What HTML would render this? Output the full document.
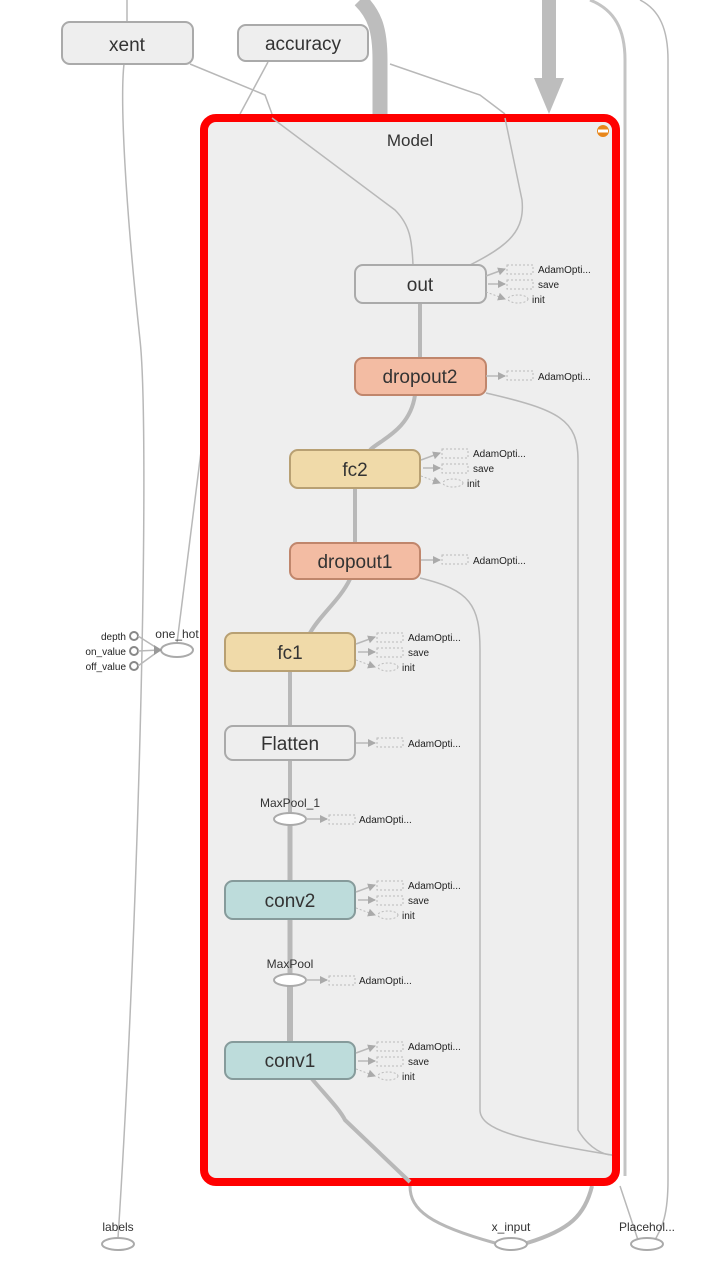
<!DOCTYPE html>
<html><head><meta charset="utf-8"><style>
html,body{margin:0;padding:0;background:#fff;width:720px;height:1276px;overflow:hidden}
svg{display:block}
text{font-family:"Liberation Sans",sans-serif;fill:#333}
.n{font-size:19px;text-anchor:middle}
.s{font-size:10px;fill:#222}
.e{fill:none;stroke:#b8b8b8;stroke-width:1.5}
.t{fill:none;stroke:#b8b8b8;stroke-width:4}
.d{fill:none;stroke:#bbb;stroke-width:1;stroke-dasharray:2,2}
</style></head><body>
<svg width="720" height="1276" viewBox="0 0 720 1276">
<defs>
<marker id="a" markerWidth="8" markerHeight="8" refX="7" refY="4" orient="auto" markerUnits="userSpaceOnUse"><path d="M0,0L8,4L0,8z" fill="#aaa"/></marker>
</defs>
<path d="M127,0 L127,22" class="e"/>
<path d="M124,64 C120,100 125,200 140,340 C150,430 140,900 118,1238" class="e"/>
<path d="M177,643 L210,380" class="e"/>
<path d="M268,62 L240,114" class="e"/>
<path d="M190,64 L265,95 L272,114" class="e"/>
<path d="M390,64 L480,95 L505,114" class="e"/>
<path d="M360,0 C375,15 380,30 380,60 L380,114" fill="none" stroke="#bdbdbd" stroke-width="15"/>
<path d="M549,0 L549,80" fill="none" stroke="#bdbdbd" stroke-width="14"/>
<path d="M534,78 L564,78 L549,114 z" fill="#bdbdbd"/>
<path d="M590,0 C615,10 625,30 625,60 L625,1176" fill="none" stroke="#c4c4c4" stroke-width="3"/>
<path d="M640,0 C660,10 668,30 668,60 L668,1180 C668,1220 660,1230 655,1240" class="e"/>
<path d="M620,1186 L638,1240" class="e"/>
<path d="M410,1186 C410,1210 430,1225 495,1243" class="t" style="stroke-width:3"/>
<path d="M527,1243 C570,1230 585,1215 592,1186" class="t"/>
<rect x="204" y="118" width="412" height="1064" rx="12" fill="#eee" stroke="#f00" stroke-width="8"/>
<text x="410" y="146" class="n" style="font-size:17px">Model</text>
<circle cx="603" cy="131" r="6" fill="#e8861a"/><rect x="598" y="129.5" width="10" height="3" fill="#fff"/>
<path d="M272,118 L395,210 C410,225 412,240 413,265" class="e"/>
<path d="M505,118 L522,200 C525,230 510,245 470,265" class="e"/>
<path d="M486,393 C560,410 578,420 578,460 L578,1130 C590,1150 605,1155 612,1155" class="e"/>
<path d="M420,578 C470,590 480,605 480,650 L480,1110 C480,1130 520,1140 612,1155" class="e"/>
<path d="M420,303 L420,358" class="t"/>
<path d="M415,395 C410,430 380,440 370,450" class="t"/>
<path d="M355,488 L355,543" class="t"/>
<path d="M350,579 C340,600 320,615 310,633" class="t"/>
<path d="M290,671 L290,726" class="t"/>
<path d="M290,760 L290,813" class="t"/>
<path d="M290,825 L290,881" class="t" style="stroke-width:5"/>
<path d="M290,919 L290,974" class="t" style="stroke-width:5"/>
<path d="M290,986 L290,1042" class="t" style="stroke-width:6"/>
<path d="M312,1079 C330,1100 340,1110 345,1120 L410,1182" class="t"/>
<g stroke-width="2">
<rect x="62" y="22" width="131" height="42" rx="8" fill="#eee" stroke="#aaa"/>
<rect x="238" y="25" width="130" height="36" rx="8" fill="#eee" stroke="#aaa"/>
<rect x="355" y="265" width="131" height="38" rx="8" fill="#eee" stroke="#aaa"/>
<rect x="355" y="358" width="131" height="37" rx="8" fill="#f3bca3" stroke="#c0866c"/>
<rect x="290" y="450" width="130" height="38" rx="8" fill="#f0daa9" stroke="#b8a073"/>
<rect x="290" y="543" width="130" height="36" rx="8" fill="#f3bca3" stroke="#c0866c"/>
<rect x="225" y="633" width="130" height="38" rx="8" fill="#f0daa9" stroke="#b8a073"/>
<rect x="225" y="726" width="130" height="34" rx="8" fill="#eee" stroke="#aaa"/>
<rect x="225" y="881" width="130" height="38" rx="8" fill="#bddcdb" stroke="#869b9b"/>
<rect x="225" y="1042" width="130" height="37" rx="8" fill="#bddcdb" stroke="#869b9b"/>
<ellipse cx="290" cy="819" rx="16" ry="6" fill="#fff" stroke="#aaa"/>
<ellipse cx="290" cy="980" rx="16" ry="6" fill="#fff" stroke="#aaa"/>
<ellipse cx="118" cy="1244" rx="16" ry="6" fill="#fff" stroke="#aaa"/>
<ellipse cx="511" cy="1244" rx="16" ry="6" fill="#fff" stroke="#aaa"/>
<ellipse cx="647" cy="1244" rx="16" ry="6" fill="#fff" stroke="#aaa"/>
<ellipse cx="177" cy="650" rx="16" ry="7" fill="#fff" stroke="#aaa"/>
<circle cx="134" cy="636" r="4" fill="#fff" stroke="#888"/>
<circle cx="134" cy="651" r="4" fill="#fff" stroke="#888"/>
<circle cx="134" cy="666" r="4" fill="#fff" stroke="#888"/>
</g>
<path d="M138,636 L160,650 M138,651 L160,650 M138,666 L160,650" class="e"/>
<path d="M154,645 L162,650 L154,655z" fill="#999"/>
<text x="127" y="51" class="n">xent</text>
<text x="303" y="50" class="n">accuracy</text>
<text x="420" y="291" class="n">out</text>
<text x="420" y="383" class="n">dropout2</text>
<text x="355" y="476" class="n">fc2</text>
<text x="355" y="568" class="n">dropout1</text>
<text x="290" y="659" class="n">fc1</text>
<text x="290" y="750" class="n">Flatten</text>
<text x="290" y="907" class="n">conv2</text>
<text x="290" y="1067" class="n">conv1</text>
<g style="font-size:12px;text-anchor:middle">
<text x="290" y="807" style="font-size:12px">MaxPool_1</text>
<text x="290" y="968" style="font-size:12px">MaxPool</text>
<text x="118" y="1231" style="font-size:12px">labels</text>
<text x="511" y="1231" style="font-size:12px">x_input</text>
<text x="647" y="1231" style="font-size:12px">Placehol...</text>
<text x="177" y="638" style="font-size:12px">one_hot</text>
</g>
<g class="s" style="text-anchor:end">
<text x="126" y="640" class="s">depth</text>
<text x="126" y="655" class="s">on_value</text>
<text x="126" y="670" class="s">off_value</text>
</g>
<g id="tri">
<path d="M486,276 L505,269" class="e" marker-end="url(#a)"/>
<path d="M488,284 L505,284" class="e" marker-end="url(#a)"/>
<path d="M486,292 L505,299" class="d" marker-end="url(#a)"/>
<rect x="507" y="265" width="26" height="9" class="d" fill="#eee"/>
<rect x="507" y="280" width="26" height="9" class="d" fill="#eee"/>
<ellipse cx="518" cy="299" rx="10" ry="4" fill="#fff" class="d"/>
<text x="538" y="273" class="s">AdamOpti...</text>
<text x="538" y="288" class="s">save</text>
<text x="532" y="303" class="s">init</text>
</g>
<use href="#tri" x="-65" y="184"/>
<use href="#tri" x="-130" y="368"/>
<use href="#tri" x="-130" y="616"/>
<use href="#tri" x="-130" y="777"/>
<g id="one">
<path d="M486,376 L505,376" class="e" marker-end="url(#a)"/>
<rect x="507" y="371" width="26" height="9" class="d" fill="#eee"/>
<text x="538" y="380" class="s">AdamOpti...</text>
</g>
<use href="#one" x="-65" y="184"/>
<use href="#one" x="-130" y="367"/>
<path d="M306,819 L327,819" class="e" marker-end="url(#a)"/>
<rect x="329" y="815" width="26" height="9" class="d" fill="#eee"/>
<text x="359" y="823" class="s">AdamOpti...</text>
<path d="M306,980 L327,980" class="e" marker-end="url(#a)"/>
<rect x="329" y="976" width="26" height="9" class="d" fill="#eee"/>
<text x="359" y="984" class="s">AdamOpti...</text>
</svg>
</body></html>
